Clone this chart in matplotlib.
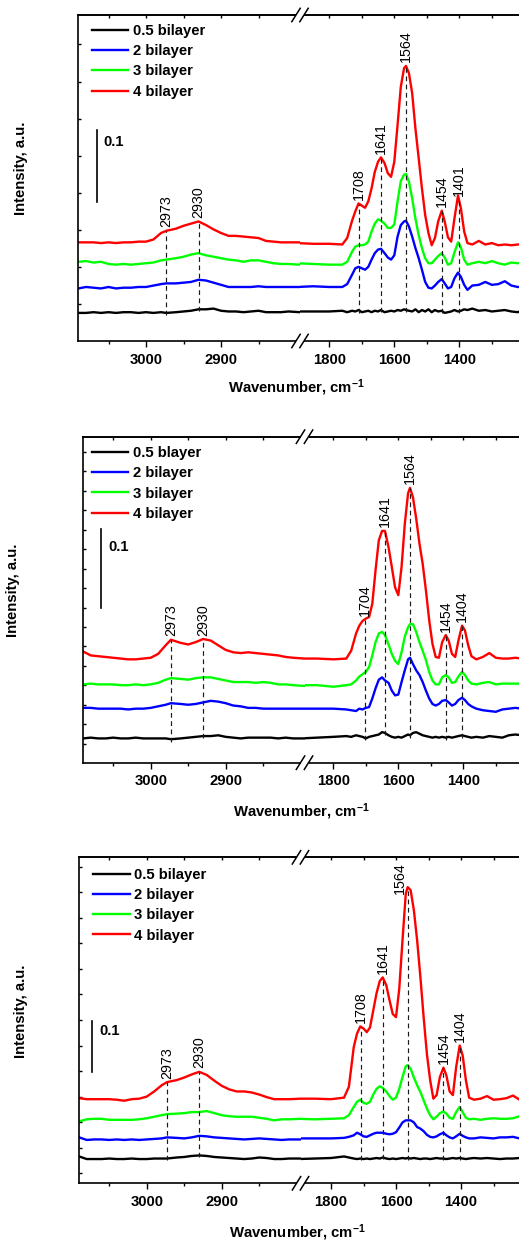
import numpy as np
import matplotlib
matplotlib.use("Agg")
import matplotlib.pyplot as plt
from matplotlib.lines import Line2D
from matplotlib.patches import Rectangle
from matplotlib.ticker import FixedLocator

plt.rcParams['font.family'] = ['Liberation Sans', 'DejaVu Sans']
plt.rcParams['font.weight'] = 'bold'
plt.rcParams['mathtext.fontset'] = 'custom'
plt.rcParams['mathtext.rm'] = 'Liberation Sans:bold'
plt.rcParams['mathtext.it'] = 'Liberation Sans:bold'
plt.rcParams['mathtext.bf'] = 'Liberation Sans:bold'
plt.rcParams['mathtext.default'] = 'rm'

# ---------------- data (wavenumber, cm-1 ; intensity, a.u.) ----------------
WN_RIGHT = [1900, 1850, 1800, 1760, 1745, 1730, 1720, 1710, 1700, 1690,
            1680, 1670, 1660, 1650, 1641, 1630, 1620, 1610, 1600, 1590,
            1580, 1570, 1564, 1555, 1545, 1535, 1525, 1515, 1505, 1495,
            1485, 1475, 1465, 1454, 1445, 1435, 1425, 1415, 1404, 1395,
            1385, 1375, 1360, 1340, 1320, 1300, 1280, 1260, 1240, 1220,
            1200]
WN_LEFT = [3090, 3080, 3070, 3060, 3050, 3040, 3030, 3020, 3010, 3000,
           2990, 2980, 2973, 2960, 2950, 2940, 2930, 2920, 2910, 2900,
           2890, 2880, 2870, 2860, 2850, 2840, 2830, 2820, 2810, 2795]

SERIES_COLORS = ['#000000', '#0000ff', '#00ff00', '#ff0000']

# Panel 1
P1_LABELS = ['0.5 bilayer', '2 bilayer', '3 bilayer', '4 bilayer']
P1_BLACK_L = [0.039, 0.039, 0.040, 0.039, 0.040, 0.039, 0.040, 0.040, 0.039, 0.040,
              0.039, 0.040, 0.039, 0.040, 0.041, 0.042, 0.044, 0.044, 0.045, 0.042,
              0.041, 0.041, 0.040, 0.041, 0.042, 0.040, 0.040, 0.040, 0.041, 0.040]
P1_BLUE_L = [0.073, 0.075, 0.074, 0.073, 0.075, 0.073, 0.074, 0.074, 0.075, 0.075,
             0.077, 0.079, 0.080, 0.080, 0.081, 0.082, 0.085, 0.084, 0.081, 0.078,
             0.075, 0.075, 0.075, 0.075, 0.076, 0.075, 0.075, 0.075, 0.075, 0.075]
P1_GREEN_L = [0.110, 0.111, 0.109, 0.110, 0.107, 0.106, 0.107, 0.106, 0.107, 0.108,
              0.109, 0.112, 0.113, 0.115, 0.117, 0.120, 0.122, 0.119, 0.117, 0.115,
              0.113, 0.112, 0.110, 0.112, 0.112, 0.110, 0.108, 0.107, 0.107, 0.106]
P1_RED_L = [0.137, 0.137, 0.137, 0.136, 0.137, 0.136, 0.137, 0.137, 0.138, 0.138,
            0.141, 0.150, 0.153, 0.156, 0.160, 0.163, 0.166, 0.161, 0.155, 0.150,
            0.146, 0.146, 0.145, 0.144, 0.143, 0.139, 0.138, 0.137, 0.137, 0.137]
P1_BLACK_R = [0.041, 0.041, 0.041, 0.042, 0.040, 0.042, 0.041, 0.043, 0.040, 0.041,
              0.042, 0.040, 0.042, 0.041, 0.043, 0.040, 0.041, 0.042, 0.041, 0.043,
              0.042, 0.044, 0.043, 0.042, 0.041, 0.044, 0.040, 0.043, 0.041, 0.044,
              0.040, 0.043, 0.041, 0.042, 0.039, 0.040, 0.041, 0.043, 0.041, 0.042,
              0.044, 0.043, 0.045, 0.042, 0.043, 0.041, 0.042, 0.043, 0.041, 0.040,
              0.044]
P1_BLUE_R = [0.075, 0.076, 0.075, 0.075, 0.079, 0.092, 0.101, 0.103, 0.101, 0.099,
             0.103, 0.113, 0.122, 0.127, 0.128, 0.122, 0.116, 0.113, 0.119, 0.145,
             0.161, 0.166, 0.167, 0.159, 0.145, 0.129, 0.115, 0.099, 0.082, 0.074,
             0.073, 0.077, 0.082, 0.086, 0.080, 0.073, 0.075, 0.087, 0.095, 0.089,
             0.078, 0.071, 0.077, 0.078, 0.082, 0.078, 0.079, 0.083, 0.077, 0.075,
             0.075]
P1_GREEN_R = [0.108, 0.107, 0.106, 0.106, 0.110, 0.124, 0.131, 0.133, 0.133, 0.134,
              0.138, 0.152, 0.163, 0.169, 0.167, 0.163, 0.157, 0.157, 0.162, 0.194,
              0.222, 0.231, 0.232, 0.221, 0.198, 0.170, 0.147, 0.129, 0.115, 0.108,
              0.108, 0.113, 0.118, 0.122, 0.116, 0.106, 0.108, 0.123, 0.137, 0.130,
              0.113, 0.106, 0.108, 0.110, 0.108, 0.111, 0.108, 0.106, 0.109, 0.108,
              0.108]
P1_RED_R = [0.136, 0.135, 0.135, 0.134, 0.143, 0.167, 0.180, 0.191, 0.188, 0.185,
            0.194, 0.212, 0.235, 0.249, 0.255, 0.247, 0.233, 0.228, 0.249, 0.300,
            0.353, 0.379, 0.382, 0.372, 0.344, 0.295, 0.254, 0.212, 0.175, 0.150,
            0.133, 0.143, 0.166, 0.181, 0.166, 0.144, 0.138, 0.170, 0.202, 0.184,
            0.152, 0.136, 0.134, 0.139, 0.134, 0.136, 0.133, 0.134, 0.133, 0.134,
            0.134]
P1_PEAKS_L = [2973, 2930]
P1_PEAKS_R = [1708, 1641, 1564, 1454, 1401]

# Panel 2
P2_LABELS = ['0.5 blayer', '2 bilayer', '3 bilayer', '4 bilayer']
P2_BLACK_L = [0.031, 0.032, 0.031, 0.031, 0.032, 0.031, 0.031, 0.032, 0.031, 0.031,
              0.031, 0.031, 0.030, 0.031, 0.032, 0.033, 0.034, 0.034, 0.035, 0.033,
              0.032, 0.031, 0.032, 0.032, 0.032, 0.032, 0.031, 0.032, 0.031, 0.031]
P2_BLUE_L = [0.070, 0.070, 0.069, 0.069, 0.069, 0.069, 0.068, 0.069, 0.069, 0.070,
             0.072, 0.074, 0.076, 0.075, 0.074, 0.075, 0.077, 0.079, 0.078, 0.076,
             0.073, 0.072, 0.070, 0.070, 0.069, 0.069, 0.069, 0.069, 0.069, 0.069]
P2_GREEN_L = [0.100, 0.101, 0.100, 0.100, 0.100, 0.099, 0.099, 0.100, 0.099, 0.100,
              0.102, 0.106, 0.108, 0.107, 0.106, 0.108, 0.109, 0.109, 0.107, 0.105,
              0.103, 0.103, 0.103, 0.102, 0.103, 0.102, 0.100, 0.100, 0.099, 0.098]
P2_RED_L = [0.142, 0.137, 0.136, 0.135, 0.134, 0.133, 0.132, 0.132, 0.133, 0.134,
            0.139, 0.150, 0.157, 0.153, 0.151, 0.154, 0.158, 0.156, 0.150, 0.144,
            0.141, 0.140, 0.141, 0.140, 0.139, 0.138, 0.137, 0.135, 0.134, 0.133]
P2_BLACK_R = [0.031, 0.032, 0.033, 0.034, 0.033, 0.035, 0.034, 0.033, 0.031, 0.033,
              0.034, 0.035, 0.036, 0.039, 0.038, 0.035, 0.033, 0.032, 0.033, 0.032,
              0.034, 0.036, 0.035, 0.038, 0.039, 0.037, 0.035, 0.034, 0.033, 0.032,
              0.033, 0.032, 0.033, 0.032, 0.033, 0.032, 0.033, 0.034, 0.035, 0.034,
              0.033, 0.032, 0.033, 0.032, 0.034, 0.033, 0.032, 0.035, 0.036, 0.035,
              0.036]
P2_BLUE_R = [0.069, 0.069, 0.069, 0.068, 0.067, 0.066, 0.069, 0.068, 0.070, 0.071,
             0.082, 0.095, 0.106, 0.109, 0.105, 0.102, 0.092, 0.086, 0.087, 0.103,
             0.118, 0.132, 0.134, 0.126, 0.118, 0.112, 0.103, 0.092, 0.082, 0.075,
             0.073, 0.075, 0.079, 0.080, 0.077, 0.073, 0.075, 0.080, 0.083, 0.080,
             0.075, 0.072, 0.069, 0.067, 0.066, 0.065, 0.068, 0.069, 0.070, 0.069,
             0.069]
P2_GREEN_R = [0.099, 0.099, 0.097, 0.099, 0.100, 0.105, 0.110, 0.113, 0.116, 0.122,
              0.137, 0.154, 0.165, 0.167, 0.163, 0.151, 0.139, 0.130, 0.126, 0.141,
              0.161, 0.173, 0.177, 0.177, 0.167, 0.154, 0.143, 0.131, 0.116, 0.105,
              0.100, 0.100, 0.109, 0.112, 0.109, 0.102, 0.103, 0.110, 0.116, 0.112,
              0.105, 0.101, 0.100, 0.102, 0.103, 0.100, 0.101, 0.101, 0.101, 0.101,
              0.101]
P2_RED_R = [0.133, 0.133, 0.132, 0.133, 0.143, 0.165, 0.175, 0.181, 0.184, 0.186,
            0.203, 0.246, 0.284, 0.296, 0.296, 0.275, 0.250, 0.224, 0.214, 0.250,
            0.305, 0.344, 0.351, 0.339, 0.312, 0.280, 0.254, 0.220, 0.182, 0.152,
            0.135, 0.134, 0.154, 0.163, 0.156, 0.139, 0.135, 0.156, 0.175, 0.169,
            0.150, 0.136, 0.132, 0.135, 0.140, 0.134, 0.133, 0.133, 0.134, 0.133,
            0.133]
P2_PEAKS_L = [2973, 2930]
P2_PEAKS_R = [1704, 1641, 1564, 1454, 1404]

# Panel 3
P3_LABELS = ['0.5 bilayer', '2 bilayer', '3 bilayer', '4 bilayer']
P3_BLACK_L = [0.052, 0.047, 0.047, 0.047, 0.048, 0.047, 0.047, 0.048, 0.047, 0.047,
              0.048, 0.048, 0.048, 0.050, 0.051, 0.053, 0.054, 0.053, 0.051, 0.050,
              0.049, 0.048, 0.047, 0.048, 0.050, 0.049, 0.047, 0.047, 0.048, 0.048]
P3_BLUE_L = [0.089, 0.084, 0.085, 0.085, 0.084, 0.085, 0.084, 0.085, 0.084, 0.085,
             0.086, 0.087, 0.089, 0.088, 0.087, 0.089, 0.092, 0.091, 0.089, 0.088,
             0.087, 0.086, 0.085, 0.086, 0.087, 0.086, 0.085, 0.084, 0.085, 0.085]
P3_GREEN_L = [0.120, 0.124, 0.125, 0.125, 0.123, 0.123, 0.123, 0.123, 0.124, 0.126,
              0.129, 0.132, 0.134, 0.135, 0.136, 0.138, 0.138, 0.140, 0.136, 0.132,
              0.130, 0.129, 0.129, 0.129, 0.127, 0.125, 0.122, 0.124, 0.124, 0.125]
P3_RED_L = [0.165, 0.163, 0.163, 0.163, 0.163, 0.162, 0.160, 0.163, 0.164, 0.168,
            0.178, 0.190, 0.196, 0.200, 0.205, 0.211, 0.216, 0.210, 0.199, 0.189,
            0.182, 0.178, 0.178, 0.176, 0.172, 0.167, 0.163, 0.163, 0.163, 0.164]
P3_BLACK_R = [0.047, 0.048, 0.049, 0.052, 0.050, 0.048, 0.047, 0.048, 0.047, 0.048,
              0.047, 0.048, 0.049, 0.048, 0.050, 0.048, 0.047, 0.048, 0.047, 0.048,
              0.049, 0.048, 0.049, 0.048, 0.049, 0.048, 0.047, 0.048, 0.048, 0.047,
              0.048, 0.049, 0.048, 0.048, 0.047, 0.048, 0.049, 0.048, 0.049, 0.048,
              0.047, 0.048, 0.049, 0.048, 0.049, 0.048, 0.047, 0.048, 0.048, 0.049,
              0.050]
P3_BLUE_R = [0.087, 0.087, 0.087, 0.088, 0.090, 0.093, 0.098, 0.095, 0.091, 0.090,
             0.093, 0.096, 0.098, 0.098, 0.098, 0.096, 0.095, 0.096, 0.099, 0.108,
             0.118, 0.122, 0.122, 0.122, 0.118, 0.109, 0.106, 0.101, 0.094, 0.090,
             0.089, 0.091, 0.095, 0.098, 0.093, 0.089, 0.087, 0.091, 0.096, 0.092,
             0.089, 0.087, 0.087, 0.089, 0.088, 0.087, 0.089, 0.089, 0.090, 0.087,
             0.087]
P3_GREEN_R = [0.125, 0.124, 0.125, 0.126, 0.132, 0.148, 0.158, 0.162, 0.156, 0.154,
              0.158, 0.172, 0.183, 0.188, 0.185, 0.178, 0.169, 0.162, 0.166, 0.183,
              0.206, 0.227, 0.229, 0.222, 0.205, 0.190, 0.177, 0.161, 0.145, 0.132,
              0.124, 0.129, 0.136, 0.139, 0.135, 0.127, 0.125, 0.138, 0.148, 0.138,
              0.127, 0.124, 0.125, 0.123, 0.125, 0.126, 0.125, 0.125, 0.126, 0.130,
              0.127]
P3_RED_R = [0.164, 0.164, 0.163, 0.166, 0.187, 0.264, 0.290, 0.304, 0.300, 0.293,
            0.302, 0.335, 0.368, 0.392, 0.399, 0.384, 0.355, 0.328, 0.322, 0.377,
            0.471, 0.561, 0.574, 0.568, 0.529, 0.471, 0.400, 0.322, 0.251, 0.200,
            0.164, 0.171, 0.206, 0.224, 0.209, 0.178, 0.171, 0.225, 0.267, 0.248,
            0.200, 0.166, 0.162, 0.164, 0.169, 0.162, 0.163, 0.165, 0.170, 0.162,
            0.164]
P3_PEAKS_L = [2973, 2930]
P3_PEAKS_R = [1708, 1641, 1564, 1454, 1404]

LEFT_MAJOR = [3000, 2900]
LEFT_MINOR = [3050, 2950, 2850]
RIGHT_MAJOR = [1800, 1600, 1400]
RIGHT_MINOR = [1700, 1500, 1300]
SCALE_BAR = 0.1

# ---------------- layout (pixels) ----------------
W, H = 519, 1242
fig = plt.figure(figsize=(5.1901, 12.4201), dpi=100)
fig.patch.set_facecolor('white')


def fx(x):
    return x / W


def fy(y):
    return 1 - y / H


PANELS = [
    dict(x0=78.0, x3000=146.0, xb=300.0, x1800=329.3, ytop=15.0, ybot=341.0, ppu=720.0,
         bar_x=96.7, bar_y0=0.193, txt_x=103.0, txt_y=0.276, leg=(13.7, 17.0),
         yt0=0.0514, ytstep=0.0515, xlab=(296.0, 388.0), ylab=(20.8, 168.0),
         label_shift={},
         labels=P1_LABELS,
         left=[P1_BLACK_L, P1_BLUE_L, P1_GREEN_L, P1_RED_L],
         right=[P1_BLACK_R, P1_BLUE_R, P1_GREEN_R, P1_RED_R],
         peaksL=P1_PEAKS_L, peaksR=P1_PEAKS_R),
    dict(x0=82.7, x3000=150.7, xb=304.5, x1800=333.3, ytop=436.7, ybot=762.7, ppu=783.0,
         bar_x=101.0, bar_y0=0.198, txt_x=108.5, txt_y=0.276, leg=(9.0, 17.5),
         yt0=0.0239, ytstep=0.0249, xlab=(301.0, 811.7), ylab=(13.3, 590.7),
         label_shift={},
         labels=P2_LABELS,
         left=[P2_BLACK_L, P2_BLUE_L, P2_GREEN_L, P2_RED_L],
         right=[P2_BLACK_R, P2_BLUE_R, P2_GREEN_R, P2_RED_R],
         peaksL=P2_PEAKS_L, peaksR=P2_PEAKS_R),
    dict(x0=78.7, x3000=146.7, xb=300.5, x1800=331.0, ytop=857.3, ybot=1183.3, ppu=516.0,
         bar_x=91.7, bar_y0=0.215, txt_x=99.5, txt_y=0.295, leg=(14.6, 18.5),
         yt0=0.0194, ytstep=0.0495, xlab=(297.5, 1233.0), ylab=(20.8, 1011.7),
         label_shift={1564: (-5.5, -5.0)},
         labels=P3_LABELS,
         left=[P3_BLACK_L, P3_BLUE_L, P3_GREEN_L, P3_RED_L],
         right=[P3_BLACK_R, P3_BLUE_R, P3_GREEN_R, P3_RED_R],
         peaksL=P3_PEAKS_L, peaksR=P3_PEAKS_R),
]

SL, SR = 0.75, 0.325  # px per cm-1
FS = 10.7
LW = 1.7
SPINE_LW = 1.2


def style_x(ax, majors, minors):
    ax.set_xticks(majors)
    ax.set_xticks(minors, minor=True)
    ax.tick_params(axis='x', which='major', direction='out', length=4.2, width=1.0,
                   pad=4.2, labelsize=FS, top=False)
    ax.tick_params(axis='x', which='minor', direction='out', length=2.4, width=1.0, top=False)
    sec = ax.secondary_xaxis('top')
    sec.set_xticks(majors)
    sec.set_xticks(minors, minor=True)
    sec.tick_params(axis='x', which='both', direction='in', length=2.0, width=1.0,
                    labeltop=False)
    sec.spines['top'].set_linewidth(SPINE_LW)
    for t in ax.get_xticklabels():
        t.set_fontweight('bold')


def mark_peaks(ax, wn, red, black, peaks, shifts):
    wn_r = np.asarray(wn)[::-1]
    red_r = np.asarray(red)[::-1]
    blk_r = np.asarray(black)[::-1]
    for pk in peaks:
        top = np.interp(pk, wn_r, red_r)
        bot = np.interp(pk, wn_r, blk_r) - 0.003
        ax.plot([pk, pk], [bot, top], color='#1a1a1a', lw=0.85,
                linestyle=(0, (4, 3)), zorder=5)
        dx, dy = shifts.get(pk, (0.0, 2.5))
        ax.annotate(str(pk), (pk, top), xytext=(dx, dy), textcoords='offset points',
                    rotation=90, ha='center', va='bottom', fontsize=10.3,
                    fontweight='normal', zorder=6, annotation_clip=False)


for p in PANELS:
    x0, x3000, xb, x1800 = p['x0'], p['x3000'], p['xb'], p['x1800']
    ytop, ybot, ppu = p['ytop'], p['ybot'], p['ppu']
    hpx = ybot - ytop
    wl0 = 3000 + (x3000 - x0) / SL
    wl1 = 3000 - (xb - x3000) / SL
    xr_end = xb + 232.0
    wr0 = 1800 + (x1800 - xb) / SR
    wr1 = 1800 - (xr_end - x1800) / SR

    axL = fig.add_axes([fx(x0), fy(ybot), (xb - x0) / W, hpx / H])
    axR = fig.add_axes([fx(xb), fy(ybot), (xr_end - xb) / W, hpx / H])
    ymax = hpx / ppu
    for ax in (axL, axR):
        ax.set_ylim(0, ymax)
        for s in ax.spines.values():
            s.set_linewidth(SPINE_LW)
        ax.patch.set_alpha(0)
    axL.set_xlim(wl0, wl1)
    axR.set_xlim(wr0, wr1)
    axL.spines['right'].set_visible(False)
    axR.spines['left'].set_visible(False)
    axR.spines['right'].set_visible(False)

    handles = []
    for vals, col, lab in zip(p['left'], SERIES_COLORS, p['labels']):
        h, = axL.plot(WN_LEFT, vals, color=col, lw=LW, label=lab, solid_joinstyle='round')
        handles.append(h)
    for vals, col in zip(p['right'], SERIES_COLORS):
        axR.plot(WN_RIGHT, vals, color=col, lw=LW, solid_joinstyle='round')

    style_x(axL, LEFT_MAJOR, LEFT_MINOR)
    style_x(axR, RIGHT_MAJOR, RIGHT_MINOR)

    axL.yaxis.set_major_locator(FixedLocator(np.arange(p['yt0'], ymax, p['ytstep'])))
    axL.tick_params(axis='y', which='both', direction='in', length=2.3, width=1.0,
                    labelleft=False, right=False)
    axR.tick_params(axis='y', which='both', left=False, right=False, labelleft=False)

    mark_peaks(axL, WN_LEFT, p['left'][3], p['left'][0], p['peaksL'], p['label_shift'])
    mark_peaks(axR, WN_RIGHT, p['right'][3], p['right'][0], p['peaksR'], p['label_shift'])

    # scale bar
    bx = wl0 - (p['bar_x'] - x0) / SL
    axL.plot([bx, bx], [p['bar_y0'], p['bar_y0'] + SCALE_BAR], color='k', lw=1.2)
    tx = wl0 - (p['txt_x'] - x0) / SL
    axL.text(tx, p['txt_y'], '0.1', ha='left', va='center', fontsize=FS, fontweight='bold')

    # legend
    lx, ly = p['leg']
    axL.legend(handles, p['labels'], loc='upper left',
               bbox_to_anchor=((lx) / (xb - x0), 1 - (ly - 8.0) / hpx),
               frameon=False, borderpad=0, borderaxespad=0, handlelength=2.45,
               handletextpad=0.3, labelspacing=0.42,
               prop=dict(weight='bold', size=FS))

    # axis break marks
    for yy in (ytop, ybot):
        fig.add_artist(Rectangle((fx(xb - 4), fy(yy + 1.8)), 8 / W, 3.6 / H,
                                 transform=fig.transFigure, facecolor='white',
                                 edgecolor='none', zorder=10))
        for cx in (xb - 4, xb + 4):
            fig.add_artist(Line2D([fx(cx - 4.2), fx(cx + 4.2)], [fy(yy + 6.7), fy(yy - 6.7)],
                                  transform=fig.transFigure, color='k', lw=1.1, zorder=11))

    fig.text(fx(p['xlab'][0]), fy(p['xlab'][1]), 'Wavenumber, cm$^{-1}$', ha='center',
             va='center', fontsize=FS, fontweight='bold')
    fig.text(fx(p['ylab'][0]), fy(p['ylab'][1]), 'Intensity, a.u.', ha='center',
             va='center', rotation=90, fontsize=FS, fontweight='bold')

fig.savefig('out.png', dpi=100, facecolor='white')
